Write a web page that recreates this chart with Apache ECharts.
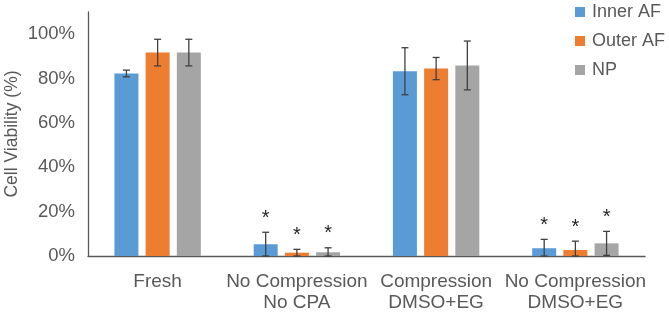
<!DOCTYPE html>
<html><head><meta charset="utf-8">
<script src="https://cdn.jsdelivr.net/npm/echarts@6/dist/echarts.min.js"></script>
<style>html,body{margin:0;padding:0;background:#fff}#c{width:669px;height:313px}</style>
</head><body><div id="c"></div>
<script>
var categories = ['Fresh', 'No Compression\nNo CPA', 'Compression\nDMSO+EG', 'No Compression\nDMSO+EG'];
var seriesNames = ['Inner AF', 'Outer AF', 'NP'];
var innerAF = [82.3, 5.3, 83.3, 3.5];
var innerErr = [1.5, 5.4, 10.6, 4.0];
var innerSig = [0, 1, 0, 1];
var outerAF = [91.7, 1.5, 84.5, 2.7];
var outerErr = [6.0, 1.5, 5.0, 4.0];
var outerSig = [0, 1, 0, 1];
var npVals = [91.7, 1.7, 85.9, 5.7];
var npErr = [6.0, 2.0, 11.0, 5.4];
var npSig = [0, 1, 0, 1];
var yTicks = [0, 20, 40, 60, 80, 100];

var colors = ['#5B9BD5', '#ED7D31', '#A5A5A5'];
var vals = [innerAF, outerAF, npVals];
var errs = [innerErr, outerErr, npErr];
var sigs = [innerSig, outerSig, npSig];
var BW = 24, GAP = 0.3;
var font = '"Liberation Sans", Arial, sans-serif';
var txt = '#595959';

var series = [];
for (var s = 0; s < 3; s++) {
  series.push({
    name: seriesNames[s], type: 'bar', data: vals[s], barWidth: BW, barGap: (GAP*100)+'%',
    itemStyle: {color: colors[s]}, z: 2
  });
}
for (var s = 0; s < 3; s++) {
  (function(si){
    var d = vals[si].map(function(v, i){ return [i, v, errs[si][i], sigs[si][i]]; });
    series.push({
      type: 'custom', z: 5, silent: true,
      data: d,
      encode: {x: 0, y: 1},
      renderItem: function(params, api){
        var i = api.value(0), v = api.value(1), e = api.value(2), sg = api.value(3);
        var off = (si - 1) * (BW + BW*GAP);
        var top = api.coord([i, v + e]);
        var bot = api.coord([i, Math.max(0, v - e)]);
        var x = top[0] + off;
        var cap = 3.5;
        var st = {stroke: '#404040', lineWidth: 1.3};
        var ch = [
          {type:'line', shape:{x1:x,y1:top[1],x2:x,y2:bot[1]}, style:st},
          {type:'line', shape:{x1:x-cap,y1:top[1],x2:x+cap,y2:top[1]}, style:st},
          {type:'line', shape:{x1:x-cap,y1:bot[1],x2:x+cap,y2:bot[1]}, style:st}
        ];
        if (sg) {
          ch.push({type:'text', style:{text:'*', x:x, y:top[1]-4, textAlign:'center', textVerticalAlign:'bottom', fill:'#262626', font:'20px '+font}});
        }
        return {type:'group', children: ch};
      }
    });
  })(s);
}

var chart = echarts.init(document.getElementById('c'));
chart.setOption({
  animation: false,
  textStyle: {fontFamily: font},
  legend: {
    data: seriesNames, orient: 'vertical', left: 575, top: 3, padding: 0,
    itemWidth: 10, itemHeight: 10, itemGap: 11, icon: 'rect',
    textStyle: {fontSize: 18, color: txt, fontFamily: font, padding: [0,0,0,2]}
  },
  grid: {left: 88, right: 24, top: 12, bottom: 57, containLabel: false, outerBoundsMode: 'none'},
  xAxis: {
    type: 'category', data: categories,
    axisLine: {lineStyle: {color: '#595959', width: 1.3}},
    axisTick: {show: false},
    axisLabel: {fontSize: 19, color: txt, fontFamily: font, margin: 15, lineHeight: 21, interval: 0}
  },
  yAxis: {
    type: 'value', min: 0, max: 110, interval: 10,
    name: 'Cell Viability (%)', nameLocation: 'middle', nameGap: 67, nameMoveOverlap: false,
    nameTextStyle: {fontSize: 17.5, color: txt, fontFamily: font},
    axisLine: {show: true, lineStyle: {color: '#595959', width: 1.3}},
    axisTick: {show: false},
    splitLine: {show: false},
    axisLabel: {fontSize: 18.5, color: txt, fontFamily: font, margin: 13,
      formatter: function(v){ return yTicks.indexOf(v) >= 0 ? v + '%' : ''; }}
  },
  series: series
});
</script></body></html>
